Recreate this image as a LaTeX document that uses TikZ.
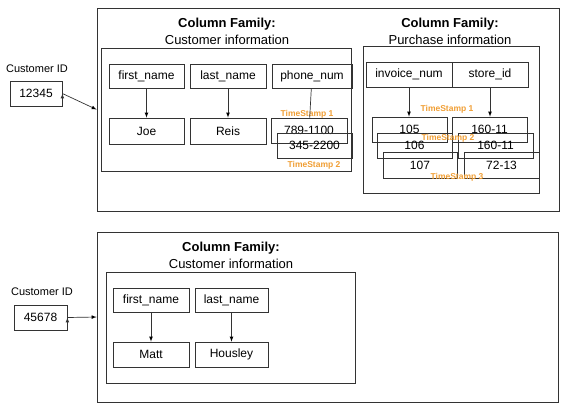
\documentclass[tikz,border=0pt]{standalone}
\usepackage{fontspec}
\setmainfont{Liberation Sans}
\usetikzlibrary{positioning}
\usetikzlibrary{arrows.meta}
\definecolor{tsorange}{RGB}{240,158,52}
\definecolor{linegray}{RGB}{51,51,51}
\tikzset{
    family/.style = {rectangle, draw=linegray, line width=0.8pt, inner sep=0pt},
    cell/.style = {rectangle, draw=linegray, line width=0.8pt, inner sep=0pt, minimum width=75pt, minimum height=25pt, font=\fontsize{12}{14}\selectfont},
    famtitle/.style = {font=\fontsize{13}{15}\selectfont\bfseries},
    famname/.style = {font=\fontsize{13}{15}\selectfont},
    idlabel/.style = {font=\fontsize{11}{13}\selectfont},
    stamp/.style = {font=\fontsize{8.5}{10}\selectfont\bfseries, text=tsorange},
    edgen/.style = {-latex, line width=0.7pt, draw=linegray}, % column -> value
    edgep/.style = {line width=0.7pt, draw=linegray}, % plain
}

\begin{document}
\begin{tikzpicture}[x=1pt, y=-1pt]
\useasboundingbox (0, 0) rectangle (570, 408);
%
% row 1
\node[family, minimum width=462pt, minimum height=203pt] at (328, 109.5) (row1) {};
\node[idlabel] at (37, 69) (lab1) {Customer ID};
\node[cell, minimum width=52pt] at (36, 93.5) (id1) {12345};
%
\node[famtitle] at (227, 24) (t1) {Column Family:};
\node[famname] at (227, 40) (n1) {Customer information};
\node[family, minimum width=250pt, minimum height=123pt] at (226, 109.5) (cust1) {};
\node[cell, minimum height=24pt] at (146.5, 76) (fn1) {first\_name};
\node[cell, minimum width=76pt, minimum height=24pt] at (228, 76) (ln1) {last\_name};
\node[cell, minimum width=80pt, minimum height=24pt] at (312, 76) (ph1) {phone\_num};
\node[cell, minimum height=26pt] at (146.5, 131) (joe) {Joe};
\node[cell, minimum width=76pt, minimum height=26pt] at (228, 131) (reis) {Reis};
\node[cell, minimum width=76pt] at (309, 130.5) (pa) {789-1100};
\node[cell] at (314.5, 145.5) (pb) {345-2200};
\node[stamp] at (307, 114) (ts1a) {TimeStamp 1};
\node[stamp] at (314, 165) (ts1b) {TimeStamp 2};
%
\node[famtitle] at (450, 24) (t2) {Column Family:};
\node[famname] at (450, 40) (n2) {Purchase information};
\node[family, minimum width=176pt, minimum height=147pt] at (451, 119.5) (purch) {};
\node[cell, minimum width=86pt] at (409, 74.5) (inv) {invoice\_num};
\node[cell, minimum width=76pt] at (490, 74.5) (store) {store\_id};
\node[cell] at (409.5, 129.5) (va) {105};
\node[cell] at (489.5, 129.5) (sa) {160-11};
\node[cell] at (414.5, 145.5) (vb) {106};
\node[cell] at (495.5, 145.5) (sb) {160-11};
\node[cell, minimum width=74pt, minimum height=26pt] at (420, 165) (vc) {107};
\node[cell, minimum height=26pt] at (501.5, 165) (sc) {72-13};
\node[stamp] at (447, 109) (ts2a) {TimeStamp 1};
\node[stamp] at (448, 138) (ts2b) {TimeStamp 2};
\node[stamp] at (457, 177) (ts2c) {TimeStamp 3};
%
% row 2
\node[family, minimum width=461pt, minimum height=170pt] at (327.5, 317) (row2) {};
\node[idlabel] at (42, 292) (lab2) {Customer ID};
\node[cell, minimum width=53pt] at (40.5, 317.5) (id2) {45678};
\node[famtitle] at (231, 248) (t3) {Column Family:};
\node[famname] at (231, 264) (n3) {Customer information};
\node[family, minimum width=249pt, minimum height=111pt] at (230.5, 327.5) (cust2) {};
\node[cell, minimum width=76pt, minimum height=24pt] at (151, 300) (fn2) {first\_name};
\node[cell, minimum width=73pt, minimum height=24pt] at (231.5, 300) (ln2) {last\_name};
\node[cell, minimum width=76pt] at (151, 354.5) (matt) {Matt};
\node[cell, minimum width=73pt] at (231.5, 354.5) (hous) {Housley};
%
\draw[edgen] (id1.east) edge (row1.west);
\draw[edgen] (fn1) edge (joe);
\draw[edgen] (ln1) edge (reis);
\draw[edgep] (ph1) edge (pa);
\draw[edgen] (inv) edge (inv |- va.north);
\draw[edgen] (store) edge (store |- sa.north);
\draw[edgen] (id2.east) edge (row2.west);
\draw[edgen] (fn2) edge (matt);
\draw[edgen] (ln2) edge (hous);

\end{tikzpicture}
\end{document}
